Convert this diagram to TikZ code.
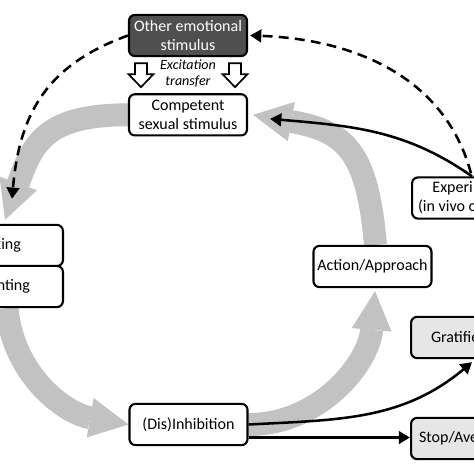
\documentclass[tikz,border=0pt]{standalone}
\usepackage{fontspec}
\setmainfont{Carlito}
\usetikzlibrary{arrows.meta,positioning,calc,backgrounds}
\definecolor{darkfill}{HTML}{4F4F4F}
\definecolor{bandgray}{HTML}{C2C2C2}
\definecolor{outfill}{HTML}{E6E6E6}

\begin{document}
\begin{tikzpicture}[
    x=0.025cm, y=-0.025cm,
    node distance=0.9cm,
    box/.style={rectangle, draw, rounded corners=0.15cm, line width=1.5pt, fill=white, align=center, minimum width=2.95cm, minimum height=1.03cm, inner xsep=2pt, inner ysep=2pt, font=\fontsize{11.4}{13.5}\selectfont},
    darkbox/.style={box, fill=darkfill, text=white},
    outbox/.style={box, fill=outfill},
    cut/.style={minimum width=0pt},
    band/.style={draw=bandgray, line width=16.3pt, -{Triangle[length=27.6pt, width=28.4pt, line width=0pt]}},
    link/.style={line width=1.8pt, -{Triangle[length=8pt, width=9pt]}},
    dashlink/.style={link, dash pattern=on 7pt off 4.5pt},
    hollow/.style={draw, line width=1.2pt, fill=white}
]
    \useasboundingbox (0,0) rectangle (474,474);

    \node[darkbox] (other) at (188,35.5) {Other emotional\\stimulus};
    \node[box, below=0.9cm of other] (comp) {Competent\\sexual stimulus};
    \node[font=\fontsize{10}{12}\selectfont\itshape, align=center] (exc) at (188,73.5) {Excitation\\transfer};

    \node[box, cut, anchor=east, inner xsep=1.05cm] (liking) at (64,245.5) {king};
    \node[box, cut, anchor=east, inner xsep=0.825cm] (wanting) at (64,286.5) {nting};

    \node[box] (action) at (372.5,266.5) {Action/Approach};
    \node[box] (dis) at (188.5,424.5) {(Dis)Inhibition};

    \node[box, cut, anchor=west, inner xsep=0.15cm, align=left] (exper) at (411,198) {\hspace*{0.36cm}Experi\\(in vivo or};
    \node[outbox, cut, anchor=west, inner xsep=0.5cm] (grat) at (410,337.5) {Gratifie};
    \node[outbox, cut, anchor=west, inner xsep=0.2cm] (stop) at (410,438.5) {Stop/Ave};

    \foreach \dx in {-47,47}
        \draw[hollow] ($(other.south)+(\dx,6)$) ++(-6,0) -- ++(0,11) -- ++(-6.5,0) -- ++(12.5,13) -- ++(12.5,-13) -- ++(-6.5,0) -- ++(0,-11) -- cycle;

    \begin{scope}[on background layer]
        \draw[band] (comp.west) to[out=180, in=70, looseness=1.3] ($(liking.north east)+(-59,-4)$);
        \draw[band] ($(wanting.south east)+(-57,0)$) to[out=-85, in=170] (dis.west);
        \draw[band] (dis.east) to[out=0, in=-95] ($(action.south)+(2.5,3)$);
        \draw[band] ($(action.north)+(3,0)$) to[out=95, in=-10, looseness=1.35] ($(comp.east)+(5,0)$);
    \end{scope}

    \draw[link] ($(exper.north west)+(61,0)$) to[out=145, in=-5] ($(comp.east)+(22,4)$);
    \draw[dashlink] ($(exper.north west)+(60,-3)$) to[out=105, in=-2] ($(other.east)+(2,0)$);
    \draw[dashlink] (other.west) to[out=200, in=85, looseness=1.1] ($(liking.north east)+(-52,-25)$);
    \draw[link] (dis.east) to[out=3, in=-140] ($(grat.south west)+(62,3)$);
    \draw[link] ($(dis.east |- stop.west)+(0,-1)$) -- ($(stop.west)+(0,-1)$);
\end{tikzpicture}
\end{document}
